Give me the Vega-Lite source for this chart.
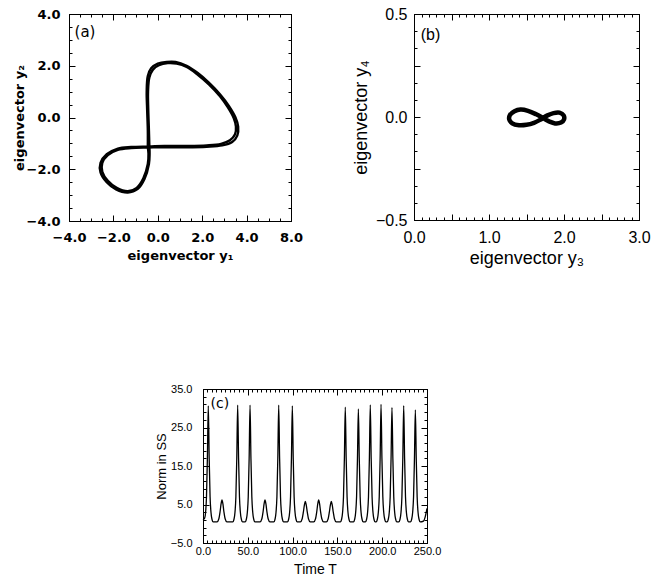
{
  "$schema": "https://vega.github.io/schema/vega-lite/v6.json",
  "padding": {"left": 12, "top": 5, "right": 5, "bottom": 5},
  "background": "white",
  "config": {
    "view": {"stroke": "black", "strokeWidth": 1},
    "axis": {"domainColor": "black", "tickColor": "black", "labelColor": "black", "titleColor": "black", "grid": false, "labelFlush": false, "labelOverlap": false, "titleFontWeight": "normal", "tickWidth": 1, "domainWidth": 1}
  },
  "spacing": 114,
  "vconcat": [
    {
      "spacing": 47,
      "hconcat": [
        {
          "width": 222,
          "height": 207,
          "resolve": {"axis": {"x": "independent", "y": "independent"}},
          "layer": [
            {
              "data": {"values": [
                {"loop":1,"i":1,"x":-0.45,"y":-1.15},{"loop":1,"i":2,"x":-0.45,"y":-0.5},{"loop":1,"i":3,"x":-0.48,"y":0.3},{"loop":1,"i":4,"x":-0.5,"y":1.0},{"loop":1,"i":5,"x":-0.45,"y":1.6},{"loop":1,"i":6,"x":-0.3,"y":1.9},{"loop":1,"i":7,"x":0.0,"y":2.08},{"loop":1,"i":8,"x":0.4,"y":2.15},{"loop":1,"i":9,"x":0.8,"y":2.15},{"loop":1,"i":10,"x":1.3,"y":2.0},{"loop":1,"i":11,"x":1.8,"y":1.72},{"loop":1,"i":12,"x":2.3,"y":1.35},{"loop":1,"i":13,"x":2.8,"y":0.9},{"loop":1,"i":14,"x":3.2,"y":0.45},{"loop":1,"i":15,"x":3.5,"y":0.0},{"loop":1,"i":16,"x":3.62,"y":-0.35},{"loop":1,"i":17,"x":3.58,"y":-0.7},{"loop":1,"i":18,"x":3.35,"y":-0.95},{"loop":1,"i":19,"x":2.9,"y":-1.08},{"loop":1,"i":20,"x":2.2,"y":-1.13},{"loop":1,"i":21,"x":1.2,"y":-1.15},{"loop":1,"i":22,"x":0.3,"y":-1.15},{"loop":1,"i":23,"x":-0.45,"y":-1.16},{"loop":1,"i":24,"x":-1.2,"y":-1.18},{"loop":1,"i":25,"x":-1.8,"y":-1.25},{"loop":1,"i":26,"x":-2.25,"y":-1.45},{"loop":1,"i":27,"x":-2.5,"y":-1.75},{"loop":1,"i":28,"x":-2.5,"y":-2.1},{"loop":1,"i":29,"x":-2.25,"y":-2.45},{"loop":1,"i":30,"x":-1.85,"y":-2.72},{"loop":1,"i":31,"x":-1.35,"y":-2.85},{"loop":1,"i":32,"x":-0.95,"y":-2.72},{"loop":1,"i":33,"x":-0.65,"y":-2.35},{"loop":1,"i":34,"x":-0.45,"y":-1.8},{"loop":1,"i":35,"x":-0.42,"y":-1.4},{"loop":1,"i":36,"x":-0.45,"y":-1.15},
                {"loop":2,"i":1,"x":-0.38,"y":-1.12},{"loop":2,"i":2,"x":-0.4,"y":-0.5},{"loop":2,"i":3,"x":-0.43,"y":0.3},{"loop":2,"i":4,"x":-0.44,"y":1.0},{"loop":2,"i":5,"x":-0.38,"y":1.55},{"loop":2,"i":6,"x":-0.22,"y":1.85},{"loop":2,"i":7,"x":0.05,"y":2.02},{"loop":2,"i":8,"x":0.45,"y":2.1},{"loop":2,"i":9,"x":0.85,"y":2.08},{"loop":2,"i":10,"x":1.3,"y":1.95},{"loop":2,"i":11,"x":1.8,"y":1.65},{"loop":2,"i":12,"x":2.3,"y":1.28},{"loop":2,"i":13,"x":2.8,"y":0.82},{"loop":2,"i":14,"x":3.15,"y":0.4},{"loop":2,"i":15,"x":3.42,"y":-0.02},{"loop":2,"i":16,"x":3.52,"y":-0.35},{"loop":2,"i":17,"x":3.48,"y":-0.65},{"loop":2,"i":18,"x":3.25,"y":-0.88},{"loop":2,"i":19,"x":2.85,"y":-1.02},{"loop":2,"i":20,"x":2.2,"y":-1.08},{"loop":2,"i":21,"x":1.2,"y":-1.1},{"loop":2,"i":22,"x":0.3,"y":-1.1},{"loop":2,"i":23,"x":-0.4,"y":-1.12},{"loop":2,"i":24,"x":-1.2,"y":-1.14},{"loop":2,"i":25,"x":-1.8,"y":-1.2},{"loop":2,"i":26,"x":-2.3,"y":-1.42},{"loop":2,"i":27,"x":-2.58,"y":-1.75},{"loop":2,"i":28,"x":-2.58,"y":-2.12},{"loop":2,"i":29,"x":-2.3,"y":-2.5},{"loop":2,"i":30,"x":-1.88,"y":-2.78},{"loop":2,"i":31,"x":-1.35,"y":-2.9},{"loop":2,"i":32,"x":-0.9,"y":-2.76},{"loop":2,"i":33,"x":-0.6,"y":-2.38},{"loop":2,"i":34,"x":-0.4,"y":-1.8},{"loop":2,"i":35,"x":-0.37,"y":-1.4},{"loop":2,"i":36,"x":-0.38,"y":-1.12}
              ]},
              "mark": {"type": "line", "interpolate": "catmull-rom", "strokeWidth": 2.4, "color": "black"},
              "encoding": {
                "x": {"field": "x", "type": "quantitative", "scale": {"domain": [-4, 6], "nice": false, "zero": false},
                  "axis": {"orient": "bottom", "values": [-4,-3.5,-3,-2.5,-2,-1.5,-1,-0.5,0,0.5,1,1.5,2,2.5,3,3.5,4,4.5,5,5.5,6],
                    "labelExpr": "abs(datum.value/2-round(datum.value/2))<0.001 ? (datum.value==6 ? '8.0' : format(datum.value,'.1f')) : ''",
                    "tickSize": {"condition": {"test": "abs(datum.value/2-round(datum.value/2))<0.001", "value": -6}, "value": -3},
                    "labelPadding": 16, "labelFont": "DejaVu Sans", "labelFontSize": 13, "labelFontWeight": "bold",
                    "title": "eigenvector  y₁", "titleFont": "DejaVu Sans", "titleFontSize": 13, "titleFontWeight": "bold", "titlePadding": 2}},
                "y": {"field": "y", "type": "quantitative", "scale": {"domain": [-4, 4], "nice": false, "zero": false},
                  "axis": {"orient": "left", "values": [-4,-3.5,-3,-2.5,-2,-1.5,-1,-0.5,0,0.5,1,1.5,2,2.5,3,3.5,4],
                    "labelExpr": "abs(datum.value/2-round(datum.value/2))<0.001 ? format(datum.value,'.1f') : ''",
                    "tickSize": {"condition": {"test": "abs(datum.value/2-round(datum.value/2))<0.001", "value": -6}, "value": -3},
                    "labelPadding": 15, "labelFont": "DejaVu Sans", "labelFontSize": 13, "labelFontWeight": "bold",
                    "title": "eigenvector  y₂", "titleFont": "DejaVu Sans", "titleFontSize": 13, "titleFontWeight": "bold", "titlePadding": 0}},
                "order": {"field": "i", "type": "quantitative"},
                "detail": {"field": "loop", "type": "nominal"}
              }
            },
            {
              "data": {"values": [{"x": -3.75, "y": 3.3, "label": "(a)"}]},
              "mark": {"type": "text", "align": "left", "baseline": "middle", "font": "DejaVu Sans", "fontSize": 15, "color": "black"},
              "encoding": {
                "x": {"field": "x", "type": "quantitative", "scale": {"domain": [-4, 6], "nice": false, "zero": false},
                  "axis": {"orient": "top", "values": [-4,-3.5,-3,-2.5,-2,-1.5,-1,-0.5,0,0.5,1,1.5,2,2.5,3,3.5,4,4.5,5,5.5,6], "labels": false, "title": null,
                    "tickSize": {"condition": {"test": "abs(datum.value/2-round(datum.value/2))<0.001", "value": -6}, "value": -3}}},
                "y": {"field": "y", "type": "quantitative", "scale": {"domain": [-4, 4], "nice": false, "zero": false},
                  "axis": {"orient": "right", "values": [-4,-3.5,-3,-2.5,-2,-1.5,-1,-0.5,0,0.5,1,1.5,2,2.5,3,3.5,4], "labels": false, "title": null,
                    "tickSize": {"condition": {"test": "abs(datum.value/2-round(datum.value/2))<0.001", "value": -6}, "value": -3}}},
                "text": {"field": "label", "type": "nominal"}
              }
            }
          ]
        },
        {
          "width": 225,
          "height": 206,
          "resolve": {"axis": {"x": "independent", "y": "independent"}},
          "layer": [
            {
              "data": {"values": [
                {"i":1,"x":1.72,"y":-0.005},{"i":2,"x":1.63,"y":0.013},{"i":3,"x":1.52,"y":0.03},{"i":4,"x":1.42,"y":0.036},{"i":5,"x":1.34,"y":0.028},{"i":6,"x":1.28,"y":0.01},{"i":7,"x":1.27,"y":-0.012},{"i":8,"x":1.31,"y":-0.031},{"i":9,"x":1.4,"y":-0.04},{"i":10,"x":1.5,"y":-0.038},{"i":11,"x":1.6,"y":-0.028},{"i":12,"x":1.68,"y":-0.014},{"i":13,"x":1.72,"y":-0.005},{"i":14,"x":1.78,"y":0.008},{"i":15,"x":1.86,"y":0.019},{"i":16,"x":1.94,"y":0.021},{"i":17,"x":1.995,"y":0.008},{"i":18,"x":2.0,"y":-0.012},{"i":19,"x":1.96,"y":-0.027},{"i":20,"x":1.88,"y":-0.031},{"i":21,"x":1.8,"y":-0.021},{"i":22,"x":1.72,"y":-0.005}
              ]},
              "mark": {"type": "line", "interpolate": "catmull-rom", "strokeWidth": 4.5, "color": "black"},
              "encoding": {
                "x": {"field": "x", "type": "quantitative", "scale": {"domain": [0, 3], "nice": false, "zero": false},
                  "axis": {"orient": "bottom", "values": [0,0.1,0.2,0.3,0.4,0.5,0.6,0.7,0.8,0.9,1,1.1,1.2,1.3,1.4,1.5,1.6,1.7,1.8,1.9,2,2.1,2.2,2.3,2.4,2.5,2.6,2.7,2.8,2.9,3],
                    "labelExpr": "abs(datum.value-round(datum.value))<0.001 ? format(datum.value,'.1f') : ''",
                    "tickSize": {"condition": {"test": "abs(datum.value*2-round(datum.value*2))<0.001", "value": -6}, "value": -3},
                    "labelPadding": 15, "labelFont": "Liberation Sans", "labelFontSize": 16,
                    "title": "eigenvector  y₃", "titleFont": "Liberation Sans", "titleFontSize": 18, "titlePadding": 1}},
                "y": {"field": "y", "type": "quantitative", "scale": {"domain": [-0.5, 0.5], "nice": false, "zero": false},
                  "axis": {"orient": "left", "values": [-0.5,-0.4167,-0.3333,-0.25,-0.1667,-0.0833,0,0.0833,0.1667,0.25,0.3333,0.4167,0.5],
                    "labelExpr": "abs(datum.value*2-round(datum.value*2))<0.01 ? format(datum.value,'.1f') : ''",
                    "tickSize": {"condition": {"test": "abs(datum.value*4-round(datum.value*4))<0.01", "value": -6}, "value": -3},
                    "labelPadding": 13, "labelFont": "Liberation Sans", "labelFontSize": 16,
                    "title": "eigenvector  y₄", "titleFont": "Liberation Sans", "titleFontSize": 18, "titlePadding": 5}},
                "order": {"field": "i", "type": "quantitative"}
              }
            },
            {
              "data": {"values": [{"x": 0.09, "y": 0.4, "label": "(b)"}]},
              "mark": {"type": "text", "align": "left", "baseline": "middle", "font": "Liberation Sans", "fontSize": 16, "color": "black"},
              "encoding": {
                "x": {"field": "x", "type": "quantitative", "scale": {"domain": [0, 3], "nice": false, "zero": false},
                  "axis": {"orient": "top", "values": [0,0.1,0.2,0.3,0.4,0.5,0.6,0.7,0.8,0.9,1,1.1,1.2,1.3,1.4,1.5,1.6,1.7,1.8,1.9,2,2.1,2.2,2.3,2.4,2.5,2.6,2.7,2.8,2.9,3], "labels": false, "title": null,
                    "tickSize": {"condition": {"test": "abs(datum.value*2-round(datum.value*2))<0.001", "value": -6}, "value": -3}}},
                "y": {"field": "y", "type": "quantitative", "scale": {"domain": [-0.5, 0.5], "nice": false, "zero": false},
                  "axis": {"orient": "right", "values": [-0.5,-0.4167,-0.3333,-0.25,-0.1667,-0.0833,0,0.0833,0.1667,0.25,0.3333,0.4167,0.5], "labels": false, "title": null,
                    "tickSize": {"condition": {"test": "abs(datum.value*4-round(datum.value*4))<0.01", "value": -6}, "value": -3}}},
                "text": {"field": "label", "type": "nominal"}
              }
            }
          ]
        }
      ]
    },
    {
      "spacing": 0,
      "hconcat": [
        {
          "width": 85,
          "height": 10,
          "view": {"stroke": null},
          "data": {"values": [{"s": 0}]},
          "mark": {"type": "point", "opacity": 0}
        },
        {
          "width": 224,
          "height": 154,
          "resolve": {"axis": {"x": "independent", "y": "independent"}},
          "layer": [
            {
              "data": {"values": [
                {"t":0,"v":1.0},{"t":1.9,"v":1.5},{"t":2.9,"v":3.0},{"t":3.9,"v":7},{"t":4.9,"v":17},{"t":5.9,"v":30.6},{"t":6.9,"v":17},{"t":7.9,"v":7},{"t":8.9,"v":3.0},{"t":9.9,"v":1.3},{"t":11.4,"v":0.5},
                {"t":15.7,"v":0.5},{"t":17.7,"v":1.3},{"t":19.0,"v":3.0},{"t":20.2,"v":5.2},{"t":21.2,"v":6.2},{"t":22.2,"v":5.2},{"t":23.4,"v":3.0},{"t":24.7,"v":1.3},{"t":26.7,"v":0.5},
                {"t":33.2,"v":0.5},{"t":34.7,"v":1.3},{"t":35.7,"v":3.0},{"t":36.7,"v":7},{"t":37.7,"v":17},{"t":38.7,"v":30.8},{"t":39.7,"v":17},{"t":40.7,"v":7},{"t":41.7,"v":3.0},{"t":42.7,"v":1.3},{"t":44.2,"v":0.5},
                {"t":47.0,"v":0.5},{"t":48.5,"v":1.3},{"t":49.5,"v":3.0},{"t":50.5,"v":7},{"t":51.5,"v":17},{"t":52.5,"v":30.8},{"t":53.5,"v":17},{"t":54.5,"v":7},{"t":55.5,"v":3.0},{"t":56.5,"v":1.3},{"t":58.0,"v":0.5},
                {"t":63.7,"v":0.5},{"t":65.7,"v":1.3},{"t":67.0,"v":3.0},{"t":68.2,"v":5.2},{"t":69.2,"v":6.2},{"t":70.2,"v":5.2},{"t":71.4,"v":3.0},{"t":72.7,"v":1.3},{"t":74.7,"v":0.5},
                {"t":79.0,"v":0.5},{"t":80.5,"v":1.3},{"t":81.5,"v":3.0},{"t":82.5,"v":7},{"t":83.5,"v":17},{"t":84.5,"v":30.8},{"t":85.5,"v":17},{"t":86.5,"v":7},{"t":87.5,"v":3.0},{"t":88.5,"v":1.3},{"t":90.0,"v":0.5},
                {"t":94.2,"v":0.5},{"t":95.7,"v":1.3},{"t":96.7,"v":3.0},{"t":97.7,"v":7},{"t":98.7,"v":17},{"t":99.7,"v":30.6},{"t":100.7,"v":17},{"t":101.7,"v":7},{"t":102.7,"v":3.0},{"t":103.7,"v":1.3},{"t":105.2,"v":0.5},
                {"t":108.7,"v":0.5},{"t":110.7,"v":1.3},{"t":112.0,"v":3.0},{"t":113.2,"v":4.9},{"t":114.2,"v":5.8},{"t":115.2,"v":4.9},{"t":116.4,"v":3.0},{"t":117.7,"v":1.3},{"t":119.7,"v":0.5},
                {"t":123.6,"v":0.5},{"t":125.6,"v":1.3},{"t":126.9,"v":3.0},{"t":128.1,"v":5.2},{"t":129.1,"v":6.2},{"t":130.1,"v":5.2},{"t":131.3,"v":3.0},{"t":132.6,"v":1.3},{"t":134.6,"v":0.5},
                {"t":137.7,"v":0.5},{"t":139.7,"v":1.3},{"t":141.0,"v":3.0},{"t":142.2,"v":4.9},{"t":143.2,"v":5.8},{"t":144.2,"v":4.9},{"t":145.4,"v":3.0},{"t":146.7,"v":1.3},{"t":148.7,"v":0.5},
                {"t":153.3,"v":0.5},{"t":154.8,"v":1.3},{"t":155.8,"v":3.0},{"t":156.8,"v":7},{"t":157.8,"v":17},{"t":158.8,"v":30.3},{"t":159.8,"v":17},{"t":160.8,"v":7},{"t":161.8,"v":3.0},{"t":162.8,"v":1.3},{"t":164.3,"v":0.5},
                {"t":167.9,"v":0.5},{"t":169.4,"v":1.3},{"t":170.4,"v":3.0},{"t":171.4,"v":7},{"t":172.4,"v":17},{"t":173.4,"v":29.8},{"t":174.4,"v":17},{"t":175.4,"v":7},{"t":176.4,"v":3.0},{"t":177.4,"v":1.3},{"t":178.9,"v":0.5},
                {"t":181.2,"v":0.5},{"t":182.7,"v":1.3},{"t":183.7,"v":3.0},{"t":184.7,"v":7},{"t":185.7,"v":17},{"t":186.7,"v":30.9},{"t":187.7,"v":17},{"t":188.7,"v":7},{"t":189.7,"v":3.0},{"t":190.7,"v":1.3},{"t":192.2,"v":0.5},
                {"t":193.2,"v":0.5},{"t":194.7,"v":1.3},{"t":195.7,"v":3.0},{"t":196.7,"v":7},{"t":197.7,"v":17},{"t":198.7,"v":31.0},{"t":199.7,"v":17},{"t":200.7,"v":7},{"t":201.7,"v":3.0},{"t":202.7,"v":1.3},{"t":204.2,"v":0.5},
                {"t":205.4,"v":0.5},{"t":206.9,"v":1.3},{"t":207.9,"v":3.0},{"t":208.9,"v":7},{"t":209.9,"v":17},{"t":210.9,"v":30.2},{"t":211.9,"v":17},{"t":212.9,"v":7},{"t":213.9,"v":3.0},{"t":214.9,"v":1.3},{"t":216.4,"v":0.5},
                {"t":218.5,"v":0.5},{"t":220.0,"v":1.3},{"t":221.0,"v":3.0},{"t":222.0,"v":7},{"t":223.0,"v":17},{"t":224.0,"v":30.7},{"t":225.0,"v":17},{"t":226.0,"v":7},{"t":227.0,"v":3.0},{"t":228.0,"v":1.3},{"t":229.5,"v":0.5},
                {"t":231.5,"v":0.5},{"t":233.0,"v":1.3},{"t":234.0,"v":3.0},{"t":235.0,"v":7},{"t":236.0,"v":17},{"t":237.0,"v":29.6},{"t":238.0,"v":17},{"t":239.0,"v":7},{"t":240.0,"v":3.0},{"t":241.0,"v":1.3},{"t":242.5,"v":0.5},
                {"t":246.0,"v":0.7},{"t":248.0,"v":1.8},{"t":250.0,"v":4.0}
              ]},
              "mark": {"type": "line", "interpolate": "monotone", "strokeWidth": 1.3, "color": "black"},
              "encoding": {
                "x": {"field": "t", "type": "quantitative", "scale": {"domain": [0, 250], "nice": false, "zero": false},
                  "axis": {"orient": "bottom", "values": [0,5,10,15,20,25,30,35,40,45,50,55,60,65,70,75,80,85,90,95,100,105,110,115,120,125,130,135,140,145,150,155,160,165,170,175,180,185,190,195,200,205,210,215,220,225,230,235,240,245,250],
                    "labelExpr": "datum.value % 50 == 0 ? format(datum.value,'.1f') : ''",
                    "tickSize": {"condition": {"test": "datum.value % 50 == 0", "value": -6}, "value": -3},
                    "labelPadding": 8, "labelFont": "Liberation Sans", "labelFontSize": 11,
                    "title": "Time  T", "titleFont": "Liberation Sans", "titleFontSize": 14, "titlePadding": 3}},
                "y": {"field": "v", "type": "quantitative", "scale": {"domain": [-5, 35], "nice": false, "zero": false},
                  "axis": {"orient": "left", "values": [-5,-3,-1,1,3,5,7,9,11,13,15,17,19,21,23,25,27,29,31,33,35],
                    "labelExpr": "(datum.value + 5) % 10 == 0 ? format(datum.value,'.1f') : ''",
                    "tickSize": {"condition": {"test": "(datum.value + 5) % 10 == 0", "value": -6}, "value": -3},
                    "labelPadding": 17, "labelFont": "Liberation Sans", "labelFontSize": 11,
                    "title": "Norm  in  SS", "titleFont": "Liberation Sans", "titleFontSize": 13, "titlePadding": 2}}
              }
            },
            {
              "data": {"values": [{"t": 8.5, "v": 31.1, "label": "(c)"}]},
              "mark": {"type": "text", "align": "left", "baseline": "middle", "font": "DejaVu Sans", "fontSize": 14, "color": "black"},
              "encoding": {
                "x": {"field": "t", "type": "quantitative", "scale": {"domain": [0, 250], "nice": false, "zero": false},
                  "axis": {"orient": "top", "values": [0,5,10,15,20,25,30,35,40,45,50,55,60,65,70,75,80,85,90,95,100,105,110,115,120,125,130,135,140,145,150,155,160,165,170,175,180,185,190,195,200,205,210,215,220,225,230,235,240,245,250], "labels": false, "title": null,
                    "tickSize": {"condition": {"test": "datum.value % 50 == 0", "value": -6}, "value": -3}}},
                "y": {"field": "v", "type": "quantitative", "scale": {"domain": [-5, 35], "nice": false, "zero": false},
                  "axis": {"orient": "right", "values": [-5,-3,-1,1,3,5,7,9,11,13,15,17,19,21,23,25,27,29,31,33,35], "labels": false, "title": null,
                    "tickSize": {"condition": {"test": "(datum.value + 5) % 10 == 0", "value": -6}, "value": -3}}},
                "text": {"field": "label", "type": "nominal"}
              }
            }
          ]
        }
      ]
    }
  ]
}
